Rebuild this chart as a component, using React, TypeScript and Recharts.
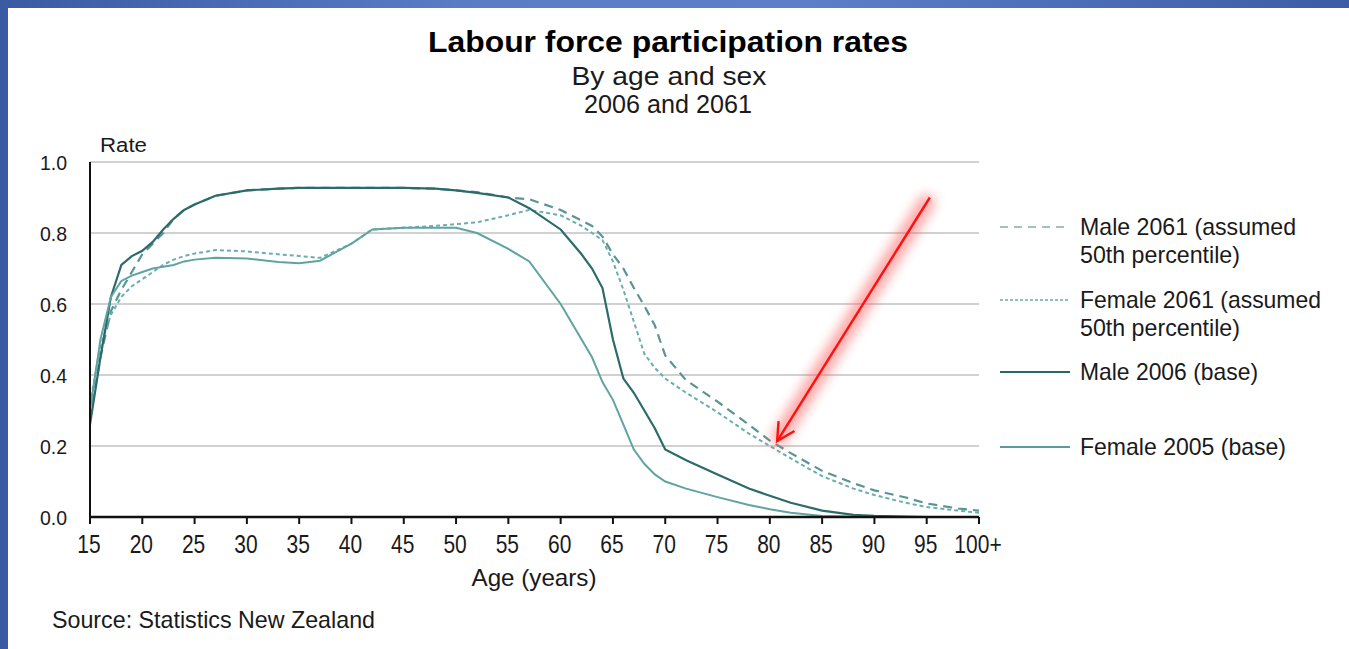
import React from "react";
import {
  LineChart,
  Line,
  XAxis,
  YAxis,
  CartesianGrid,
  ReferenceLine,
} from "recharts";

// Age in years (100 stands for 100+)
const ages = [
  15, 16, 17, 18, 19, 20, 21, 22, 23, 24, 25, 27, 30, 33, 35, 37, 40, 42, 45, 48,
  50, 52, 55, 57, 60, 62, 63, 64, 65, 66, 67, 68, 69, 70, 72, 75, 78, 80, 82, 85,
  88, 90, 93, 95, 98, 100,
];

const male2061 = [
  0.28, 0.45, 0.58, 0.64, 0.69, 0.74, 0.77, 0.8, 0.84, 0.865, 0.88, 0.905, 0.92,
  0.925, 0.927, 0.927, 0.927, 0.927, 0.927, 0.925, 0.92, 0.915, 0.9, 0.895,
  0.865, 0.835, 0.82, 0.79, 0.74, 0.7, 0.645, 0.595, 0.54, 0.455, 0.385, 0.325,
  0.26, 0.215, 0.18, 0.13, 0.095, 0.075, 0.055, 0.038, 0.024, 0.018,
];

const female2061 = [
  0.32, 0.48, 0.57, 0.62, 0.65, 0.67, 0.69, 0.71, 0.725, 0.735, 0.742, 0.752,
  0.748, 0.74, 0.735, 0.73, 0.77, 0.81, 0.815, 0.82, 0.825, 0.83, 0.85, 0.865,
  0.85, 0.82, 0.8, 0.78, 0.72, 0.64, 0.55, 0.46, 0.42, 0.39, 0.35, 0.295, 0.235,
  0.2, 0.165, 0.115, 0.08, 0.062, 0.04, 0.028, 0.018, 0.012,
];

const male2006 = [
  0.26, 0.45, 0.62, 0.71, 0.735, 0.75, 0.775, 0.81, 0.84, 0.865, 0.88, 0.905,
  0.92, 0.925, 0.927, 0.927, 0.927, 0.927, 0.927, 0.925, 0.92, 0.913, 0.9, 0.87,
  0.81, 0.74, 0.7, 0.645, 0.5, 0.39, 0.35, 0.3, 0.25, 0.19, 0.16, 0.12, 0.08,
  0.06, 0.04, 0.018, 0.006, 0.003, 0.001, 0, 0, 0,
];

const female2006 = [
  0.3, 0.5, 0.62, 0.665, 0.68, 0.69, 0.7, 0.705, 0.71, 0.72, 0.725, 0.73, 0.728,
  0.718, 0.715, 0.722, 0.77, 0.81, 0.815, 0.815, 0.815, 0.8, 0.755, 0.72, 0.6,
  0.5, 0.45, 0.38, 0.33, 0.26, 0.19, 0.15, 0.12, 0.1, 0.08, 0.056, 0.034, 0.022,
  0.012, 0.003, 0.001, 0, 0, 0, 0, 0,
];

const xTicks = [15, 20, 25, 30, 35, 40, 45, 50, 55, 60, 65, 70, 75, 80, 85, 90, 95, 100];
const yTicks = [0, 0.2, 0.4, 0.6, 0.8, 1.0];

// arrow annotation: tail and head in (age, rate)
const arrowFrom = { x: 95.3, y: 0.9 };
const arrowTo = { x: 80.7, y: 0.214 };

const rows = ages.map((age, i) => ({
  age,
  male2061: male2061[i],
  female2061: female2061[i],
  male2006: male2006[i],
  female2006: female2006[i],
}));

const FONT = '"Liberation Sans", Arial, Helvetica, sans-serif';

const series = [
  { key: "male2061", color: "#5a9494", dash: "9 6", width: 2.2 },
  { key: "female2061", color: "#6aaeae", dash: "4 3", width: 2 },
  { key: "male2006", color: "#2d6b6b", dash: undefined, width: 2.2 },
  { key: "female2006", color: "#5fa3a3", dash: undefined, width: 2 },
];

const legendItems = [
  { lines: ["Male 2061 (assumed", "50th percentile)"], lens: [216, 160], y: 227, color: "#86adad", dash: "8 6", w: 1.6 },
  { lines: ["Female 2061 (assumed", "50th percentile)"], lens: [241, 160], y: 300, color: "#6aa9a9", dash: "3 2", w: 1.6 },
  { lines: ["Male 2006 (base)"], lens: [178], y: 372, color: "#2b6666", dash: undefined, w: 2 },
  { lines: ["Female 2005 (base)"], lens: [206], y: 447, color: "#5a9c9c", dash: undefined, w: 2 },
];

function XTick({ x, y, payload }: any) {
  const label = payload.value === 100 ? "100+" : String(payload.value);
  return (
    <g transform={`translate(${x - 1},553) scale(0.84,1)`}>
      <text textAnchor="middle" fontSize={25} fontFamily={FONT} fill="#1a1a1a">
        {label}
      </text>
    </g>
  );
}

function YTick({ y, payload }: any) {
  return (
    <text
      x={67}
      y={y + 8}
      textAnchor="end"
      fontSize={19.5}
      fontFamily={FONT}
      fill="#1a1a1a"
    >
      {payload.value.toFixed(1)}
    </text>
  );
}

function Arrow({ x1, y1, x2, y2 }: any) {
  const dx = x2 - x1;
  const dy = y2 - y1;
  const len = Math.hypot(dx, dy);
  const ux = -dx / len;
  const uy = -dy / len;
  const barb = (deg: number) => {
    const a = (deg * Math.PI) / 180;
    const bx = ux * Math.cos(a) - uy * Math.sin(a);
    const by = ux * Math.sin(a) + uy * Math.cos(a);
    return `${x2 + bx * 20},${y2 + by * 20}`;
  };
  return (
    <g>
      <defs>
        <filter id="arrowGlow" x="-50%" y="-50%" width="200%" height="200%">
          <feGaussianBlur stdDeviation="6" />
        </filter>
      </defs>
      <line
        x1={x1 - ux * 6}
        y1={y1 - uy * 6}
        x2={x2 + ux * 4}
        y2={y2 + uy * 4}
        stroke="#ff5a5a"
        strokeWidth={16}
        strokeLinecap="round"
        opacity={0.55}
        filter="url(#arrowGlow)"
      />
      <line x1={x1} y1={y1} x2={x2} y2={y2} stroke="#ff1010" strokeWidth={2.4} />
      <polyline
        points={`${barb(28)} ${x2},${y2} ${barb(-28)}`}
        fill="none"
        stroke="#ff1010"
        strokeWidth={2.4}
      />
    </g>
  );
}

export default function App() {
  return (
    <div
      style={{
        position: "fixed",
        left: 0,
        top: 0,
        width: 1349,
        height: 649,
        background:
          "linear-gradient(90deg, #3b5aa4 0%, #5a7dc6 35%, #5b7fc8 60%, #3d5ca6 100%)",
        overflow: "hidden",
      }}
    >
      <div
        style={{
          position: "absolute",
          left: 8,
          top: 8,
          right: 0,
          bottom: 0,
          background: "#ffffff",
        }}
      />
      <div style={{ position: "absolute", left: 0, top: 0 }}>
        <LineChart
          width={1349}
          height={649}
          data={rows}
          margin={{ top: 162, right: 370, bottom: 92, left: 0 }}
        >
          <CartesianGrid
            horizontal
            vertical={false}
            stroke="#c2c2c2"
            strokeWidth={1.5}
          />
          <XAxis
            dataKey="age"
            type="number"
            domain={[15, 100]}
            ticks={xTicks}
            interval={0}
            height={40}
            tick={<XTick />}
            tickSize={7}
            axisLine={{ stroke: "#111", strokeWidth: 2.5 }}
            tickLine={{ stroke: "#111", strokeWidth: 2 }}
          />
          <YAxis
            type="number"
            domain={[0, 1]}
            ticks={yTicks}
            width={90}
            tick={<YTick />}
            tickLine={false}
            axisLine={{ stroke: "#111", strokeWidth: 2 }}
          />
          {series.map((s) => (
            <Line
              key={s.key}
              dataKey={s.key}
              type="linear"
              stroke={s.color}
              strokeWidth={s.width}
              strokeDasharray={s.dash}
              dot={false}
              activeDot={false}
              isAnimationActive={false}
            />
          ))}
          <ReferenceLine
            segment={[arrowFrom, arrowTo]}
            shape={(p: any) => <Arrow {...p} />}
          />
        </LineChart>
      </div>
      <svg
        width={1349}
        height={649}
        style={{ position: "absolute", left: 0, top: 0, pointerEvents: "none" }}
        fontFamily={FONT}
      >
        <text x={668} y={52} textAnchor="middle" fontSize={30} fontWeight="bold" fill="#000" textLength={480} lengthAdjust="spacingAndGlyphs">
          Labour force participation rates
        </text>
        <text x={669} y={85} textAnchor="middle" fontSize={26} fill="#1a1a1a" textLength={195} lengthAdjust="spacingAndGlyphs">
          By age and sex
        </text>
        <text x={668} y={113} textAnchor="middle" fontSize={26} fill="#1a1a1a" textLength={168} lengthAdjust="spacingAndGlyphs">
          2006 and 2061
        </text>
        <text x={100} y={152} fontSize={20} fill="#1a1a1a" textLength={47} lengthAdjust="spacingAndGlyphs">
          Rate
        </text>
        <text x={534} y={586} textAnchor="middle" fontSize={24} fill="#1a1a1a" textLength={125} lengthAdjust="spacingAndGlyphs">
          Age (years)
        </text>
        <text x={52} y={628} fontSize={24} fill="#1a1a1a" textLength={323} lengthAdjust="spacingAndGlyphs">
          Source: Statistics New Zealand
        </text>
        {legendItems.map((item) => (
          <g key={item.lines[0]}>
            <line
              x1={1000}
              x2={1070}
              y1={item.y}
              y2={item.y}
              stroke={item.color}
              strokeWidth={item.w}
              strokeDasharray={item.dash}
            />
            {item.lines.map((t, j) => (
              <text
                key={t}
                x={1080}
                y={item.y + 8 + j * 28}
                fontSize={24}
                fill="#1a1a1a"
                textLength={item.lens[j]}
                lengthAdjust="spacingAndGlyphs"
              >
                {t}
              </text>
            ))}
          </g>
        ))}
      </svg>
    </div>
  );
}
